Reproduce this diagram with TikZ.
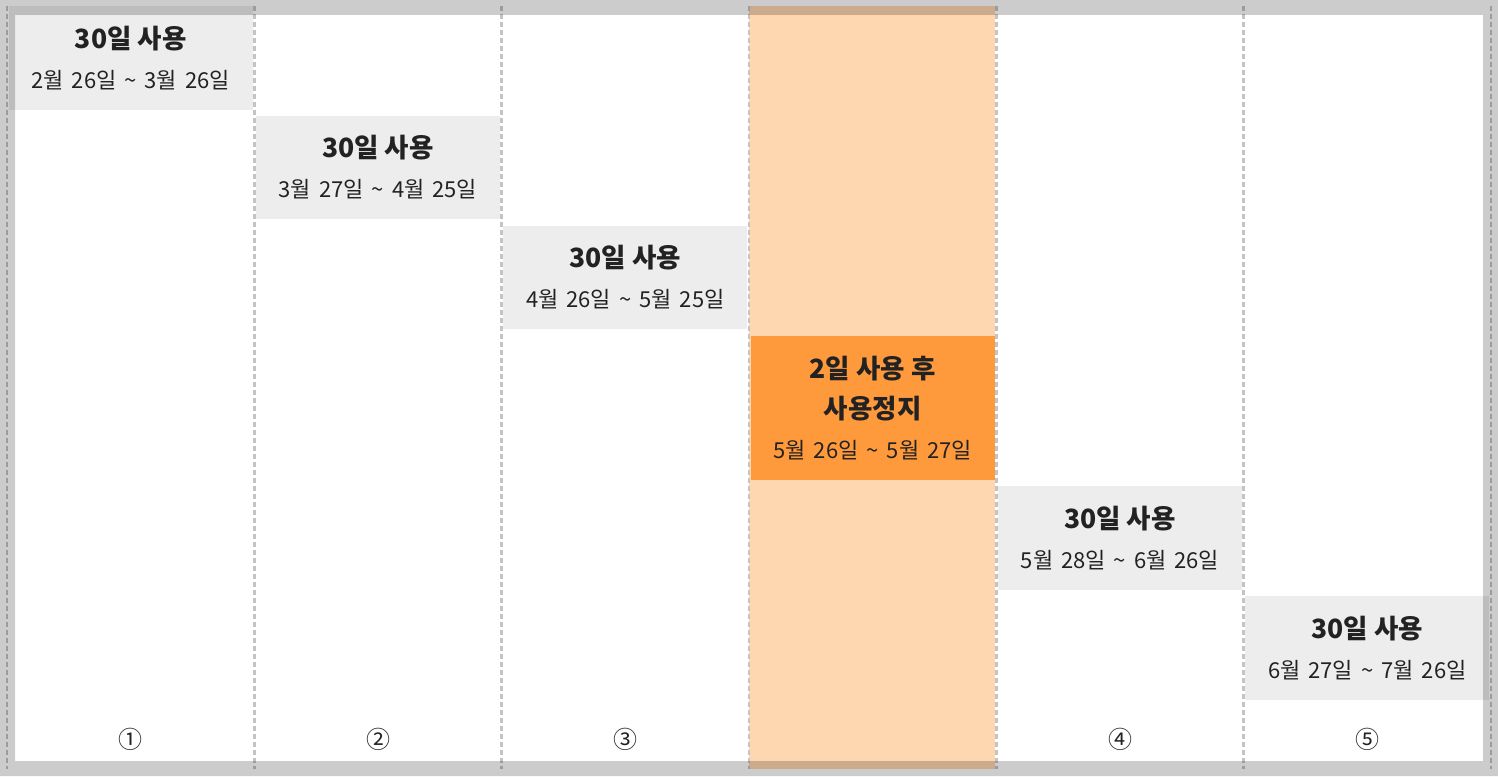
\documentclass[tikz,border=0pt]{standalone}
\usepackage{fontspec}
\setmainfont{Noto Sans CJK KR}
\usetikzlibrary{positioning}
\definecolor{cellgray}{HTML}{EDEDED}
\definecolor{lightorange}{HTML}{FED6B0}
\definecolor{strongorange}{HTML}{FF9A3C}
\definecolor{txtdark}{HTML}{222222}
\definecolor{dashgray}{HTML}{C4C4C4}
\newcommand{\datefont}{\fontsize{22}{40}\selectfont\spaceskip 8pt\relax}
\newcommand{\ttl}[1]{{\fontsize{26.5}{40}\selectfont\bfseries\spaceskip 0pt\relax #1}}

\begin{document}
\begin{tikzpicture}[x=1pt,y=-1pt,
	usebox/.style={fill=cellgray,minimum width=244pt,minimum height=104pt,inner sep=0pt,
		align=center,text=txtdark,font=\datefont},
	stopbox/.style={usebox,fill=strongorange,minimum height=144pt},
	colline/.style={dashgray,line width=2.5pt,dash pattern=on 5pt off 3pt},
	num/.style={text=txtdark,font=\fontsize{24}{24}\selectfont,inner sep=0pt}
	]
	% background and highlighted column
	\fill[white] (0,0) rectangle (1498,776);
	\fill[lightorange] (749,6) rectangle (995,769);
	% usage periods
	\node[usebox,minimum height=104pt] (p1) at (130.7,58) {\ttl{30일 사용}\\2월 26일 \textasciitilde{} 3월 26일};
	\node[usebox,minimum height=103pt] (p2) at (378,167.5) {\ttl{30일 사용}\\3월 27일 \textasciitilde{} 4월 25일};
	\node[usebox,minimum height=103pt] (p3) at (625.3,277.5) {\ttl{30일 사용}\\4월 26일 \textasciitilde{} 5월 25일};
	\node[stopbox] (stop) at (872.7,408) {\ttl{2일 사용 후}\\\ttl{사용정지}\\5월 26일 \textasciitilde{} 5월 27일};
	\node[usebox,minimum height=104pt] (p4) at (1120,538) {\ttl{30일 사용}\\5월 28일 \textasciitilde{} 6월 26일};
	\node[usebox,minimum height=104pt] (p5) at (1367.3,648) {\ttl{30일 사용}\\6월 27일 \textasciitilde{} 7월 26일};
	% column numbers
	\node[num] (n1) at (130.7,739) {①};
	\node[num] (n2) at (378,739) {②};
	\node[num] (n3) at (625.3,739) {③};
	\node[num] (n4) at (1120,739) {④};
	\node[num] (n5) at (1367.3,739) {⑤};
	% column separators
	\foreach \i in {0,...,6}
		\draw[colline] ({7+247.33*\i},6) -- ({7+247.33*\i},769);
	% frame
	\fill[black,opacity=0.2,even odd rule] (0,0) rectangle (1498,776) (15,15) rectangle (1483,761);
\end{tikzpicture}
\end{document}
